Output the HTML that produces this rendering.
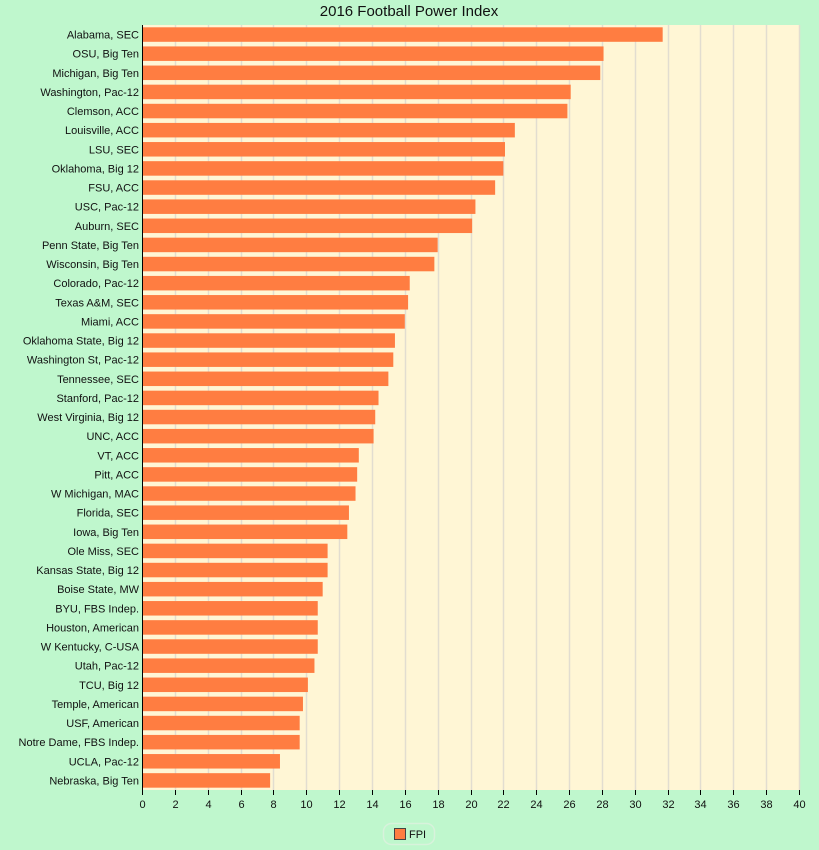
<!DOCTYPE html>
<html><head><meta charset="utf-8"><style>
html,body{margin:0;padding:0;background:#bff7cd;}
svg{display:block;font-family:"Liberation Sans",sans-serif;}
</style></head><body>
<svg id="c" width="819" height="850" xmlns="http://www.w3.org/2000/svg">
<rect width="819" height="850" fill="#bff7cd"/>
<text x="409" y="16" font-size="15" text-anchor="middle" fill="#111">2016 Football Power Index</text>
<rect x="142" y="25" width="657" height="765" fill="#fff6d5"/>
<g id="grid"></g>
<g id="bars"></g>
<line x1="142.5" y1="25" x2="142.5" y2="790" stroke="#000" stroke-width="1"/>
<g id="ticks"></g>
<rect x="383.5" y="823.5" width="51" height="21" rx="8" fill="none" stroke="#d8f2dc" stroke-width="1.5"/>
<rect x="394.5" y="828.5" width="11" height="11" fill="#ff7d41" stroke="#444" stroke-width="1"/>
<text x="409" y="838" font-size="11" fill="#111">FPI</text>
</svg>
<script>
(function(){
var d=[["Alabama, SEC",31.7],["OSU, Big Ten",28.1],["Michigan, Big Ten",27.9],["Washington, Pac-12",26.1],["Clemson, ACC",25.9],["Louisville, ACC",22.7],["LSU, SEC",22.1],["Oklahoma, Big 12",22.0],["FSU, ACC",21.5],["USC, Pac-12",20.3],["Auburn, SEC",20.1],["Penn State, Big Ten",18.0],["Wisconsin, Big Ten",17.8],["Colorado, Pac-12",16.3],["Texas A&M, SEC",16.2],["Miami, ACC",16.0],["Oklahoma State, Big 12",15.4],["Washington St, Pac-12",15.3],["Tennessee, SEC",15.0],["Stanford, Pac-12",14.4],["West Virginia, Big 12",14.2],["UNC, ACC",14.1],["VT, ACC",13.2],["Pitt, ACC",13.1],["W Michigan, MAC",13.0],["Florida, SEC",12.6],["Iowa, Big Ten",12.5],["Ole Miss, SEC",11.3],["Kansas State, Big 12",11.3],["Boise State, MW",11.0],["BYU, FBS Indep.",10.7],["Houston, American",10.7],["W Kentucky, C-USA",10.7],["Utah, Pac-12",10.5],["TCU, Big 12",10.1],["Temple, American",9.8],["USF, American",9.6],["Notre Dame, FBS Indep.",9.6],["UCLA, Pac-12",8.4],["Nebraska, Big Ten",7.8]];
var ns="http://www.w3.org/2000/svg",s=16.425,x0=142,t0=25,p=765/40;
function el(g,t,a,txt){var e=document.createElementNS(ns,t);for(var k in a)e.setAttribute(k,a[k]);if(txt!=null)e.textContent=txt;document.getElementById(g).appendChild(e);}
for(var i=0;i<=40;i+=2){var x=Math.round(x0+i*s)+0.5;
 if(i>0)el("grid","line",{x1:x,y1:25,x2:x,y2:790,stroke:"#e2ddd0","stroke-width":1.5});
 el("ticks","line",{x1:x,y1:790,x2:x,y2:795,stroke:"#000"});
 el("ticks","text",{x:x,y:808,"font-size":11,"text-anchor":"middle",fill:"#111"},i);}
d.forEach(function(r,j){var y=t0+j*p+2.3;
 el("bars","rect",{x:143,y:y,width:r[1]*s-1,height:14.5,fill:"#ff7d41"});
 el("bars","text",{x:139,y:y+11.3,"font-size":11,"text-anchor":"end",fill:"#111"},r[0]);});
})();
</script>
</body></html>
